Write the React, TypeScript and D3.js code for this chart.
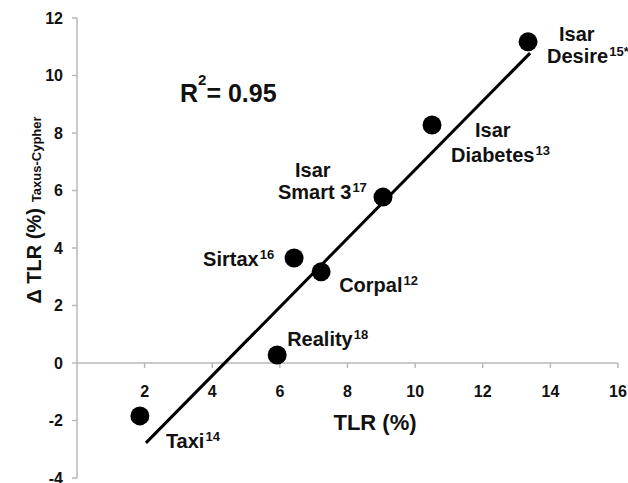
import React from 'react';
import * as d3 from 'd3';

// values
const studies = ['Taxi', 'Reality', 'Sirtax', 'Corpal', 'Isar Smart 3', 'Isar Diabetes', 'Isar Desire'];
const refs = ['14', '18', '16', '12', '17', '13', '15*'];
const tlr = [1.86, 5.92, 6.42, 7.22, 9.05, 10.5, 13.34];
const deltaTlr = [-1.84, 0.28, 3.65, 3.17, 5.77, 8.28, 11.17];
const fitX = [2.04, 13.4];
const fitY = [-2.78, 10.78];
const xTicks = [2, 4, 6, 8, 10, 12, 14, 16];
const yTicks = [-4, -2, 0, 2, 4, 6, 8, 10, 12];
const rSquared = '0.95';

// label placement (pixel offsets from the point), one entry per study
const labelLayout: Record<string, { lines: string[]; dx: number[]; dy: number[] }> = {
  Taxi: { lines: ['Taxi'], dx: [26], dy: [32] },
  Reality: { lines: ['Reality'], dx: [10], dy: [-9] },
  Sirtax: { lines: ['Sirtax'], dx: [-91], dy: [8] },
  Corpal: { lines: ['Corpal'], dx: [18], dy: [20] },
  'Isar Smart 3': { lines: ['Isar', 'Smart 3'], dx: [-88, -105], dy: [-20, 2] },
  'Isar Diabetes': { lines: ['Isar', 'Diabetes'], dx: [43, 19], dy: [12, 37] },
  'Isar Desire': { lines: ['Isar', 'Desire'], dx: [31, 19], dy: [-1, 21] },
};

const W = 628;
const H = 483;
const font = '"Liberation Sans", Arial, sans-serif';
const axisColor = '#b8b8b8';

const App = () => {
  const x = d3.scaleLinear().domain([0, 16]).range([77, 618]);
  const y = d3.scaleLinear().domain([-4, 12]).range([478, 18]);

  const line = d3.line<number>()
    .x((d) => x(fitX[d]))
    .y((d) => y(fitY[d]));

  return (
    <svg
      width={W}
      height={H}
      style={{ position: 'absolute', left: 0, top: 0, background: '#fff' }}
      fontFamily={font}
      fontWeight="bold"
    >
      {/* y axis */}
      <line x1={x(0)} x2={x(0)} y1={y(12)} y2={y(-4)} stroke={axisColor} strokeWidth={1.5} />
      {yTicks.map((t) => (
        <g key={t} transform={`translate(${x(0)}, ${y(t)})`}>
          <line x1={-5} x2={0} stroke={axisColor} strokeWidth={1.5} />
          <text x={-14} dy="0.36em" textAnchor="end" fontSize={16} fill="#111">{t}</text>
        </g>
      ))}
      {/* x axis at zero */}
      <line x1={x(0)} x2={x(16)} y1={y(0)} y2={y(0)} stroke={axisColor} strokeWidth={1.5} />
      {xTicks.map((t) => (
        <g key={t} transform={`translate(${x(t)}, ${y(0)})`}>
          <line y1={0} y2={5} stroke={axisColor} strokeWidth={1.5} />
          <text y={34} textAnchor="middle" fontSize={16} fill="#111">{t}</text>
        </g>
      ))}

      {/* axis titles */}
      <text x={375} y={430} textAnchor="middle" fontSize={22} fill="#111">TLR (%)</text>
      <text transform="translate(41, 210) rotate(-90)" textAnchor="middle" fill="#111">
        <tspan fontSize={20}>Δ TLR (%)</tspan>
        <tspan fontSize={13} dx={6}>Taxus-Cypher</tspan>
      </text>

      {/* R squared */}
      <text x={180} y={102} fontSize={25} fill="#111">
        R
        <tspan fontSize={15} dy={-17}>2</tspan>
        <tspan dy={17}>= {rSquared}</tspan>
      </text>

      {/* regression line */}
      <path d={line([0, 1]) as string} stroke="#000" strokeWidth={3} fill="none" />

      {/* points */}
      {studies.map((s, i) => (
        <circle key={s} cx={x(tlr[i])} cy={y(deltaTlr[i])} r={9.5} fill="#000" />
      ))}

      {/* labels */}
      {studies.map((s, i) => {
        const lay = labelLayout[s];
        const px = x(tlr[i]);
        const py = y(deltaTlr[i]);
        return (
          <g key={s}>
            {lay.lines.map((ln, j) => (
              <text key={ln} x={px + lay.dx[j]} y={py + lay.dy[j]} fontSize={20} fill="#111">
                {ln}
                {j === lay.lines.length - 1 && (
                  <tspan fontSize={13} dx={1} dy={-7}>{refs[i]}</tspan>
                )}
              </text>
            ))}
          </g>
        );
      })}
    </svg>
  );
};

export default App;
